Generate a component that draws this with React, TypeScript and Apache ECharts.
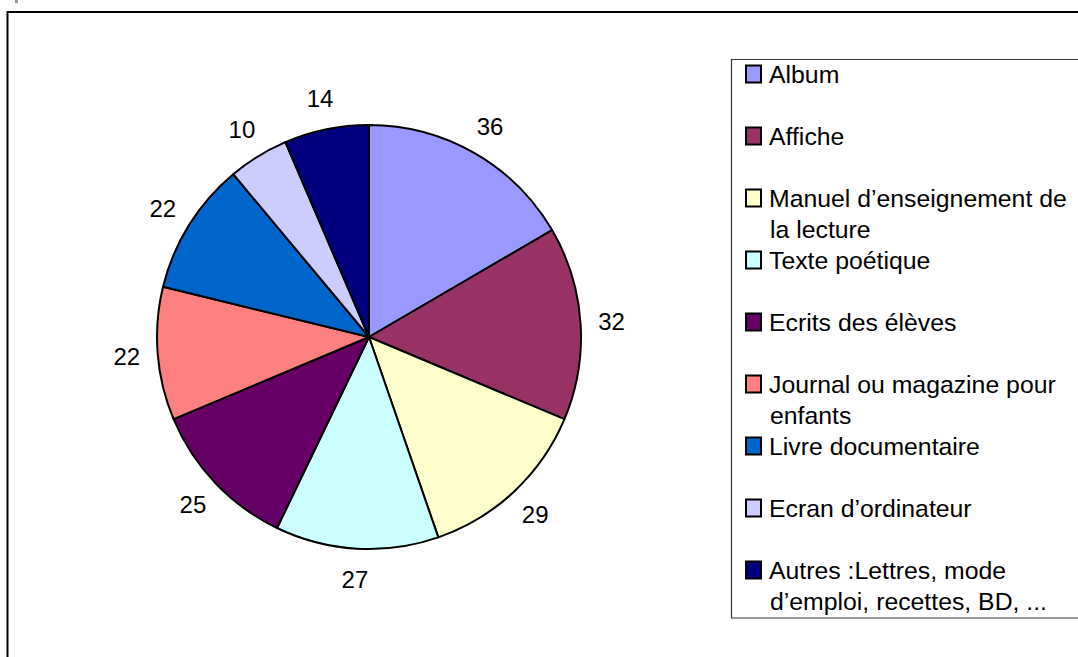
import React, { useEffect, useRef } from "react";
import * as echarts from "echarts";

const categories = [
  "Album",
  "Affiche",
  "Manuel d’enseignement de la lecture",
  "Texte poétique",
  "Ecrits des élèves",
  "Journal ou magazine pour enfants",
  "Livre documentaire",
  "Ecran d’ordinateur",
  "Autres :Lettres, mode d’emploi, recettes, BD, ...",
];
const legendLines = [
  ["Album"],
  ["Affiche"],
  ["Manuel d’enseignement de", "la lecture"],
  ["Texte poétique"],
  ["Ecrits des élèves"],
  ["Journal ou magazine pour", "enfants"],
  ["Livre documentaire"],
  ["Ecran d’ordinateur"],
  ["Autres :Lettres, mode", "d’emploi, recettes, BD, ..."],
];
const values = [36, 32, 29, 27, 25, 22, 22, 10, 14];
const colors = ["#9999FF", "#993366", "#FFFFCC", "#CCFFFF", "#660066", "#FF8080", "#0066CC", "#CCCCFF", "#000080"];

const FONT = "'Liberation Sans', Arial, sans-serif";

export default function App() {
  const ref = useRef<HTMLDivElement>(null);
  useEffect(() => {
    if (!ref.current) return;
    const chart = echarts.init(ref.current, undefined, { renderer: "svg" });
    const rich: any = {
      t: { fontSize: 24.8, lineHeight: 31, color: "#000", fontFamily: FONT, padding: [0, 0, 0, 9] },
      s: { width: 14, height: 14, lineHeight: 31 },
    };
    colors.forEach((c, i) => {
      rich["m" + i] = {
        width: 13,
        height: 13,
        backgroundColor: c,
        borderColor: "#000",
        borderWidth: 2,
        lineHeight: 31,
        padding: [2, 0, 0, 0],
      };
    });
    const option: any = {
      animation: false,
      backgroundColor: "#fff",
      textStyle: { fontFamily: FONT },
      legend: {
        orient: "vertical",
        left: 742,
        top: 58.5,
        padding: 0,
        itemGap: 0,
        itemWidth: 0,
        itemHeight: 0,
        icon: "none",
        selectedMode: false,
        data: categories,
        formatter: (name: string) => {
          const i = categories.indexOf(name);
          const lines = legendLines[i];
          const first = `{m${i}|}{t|${lines[0]}}`;
          const second = lines[1] ? `{s|}{t|${lines[1]}}` : `{t| }`;
          return first + "\n" + second;
        },
        textStyle: { fontSize: 24.8, lineHeight: 31, fontFamily: FONT, color: "#000", rich },
      },
      graphic: [
        {
          type: "rect",
          shape: { x: 7.5, y: 12, width: 1300, height: 900 },
          style: { fill: "none", stroke: "#000", lineWidth: 2 },
          silent: true,
        },
        {
          type: "rect",
          shape: { x: 731.5, y: 59.5, width: 500, height: 558.5 },
          style: { fill: "none", stroke: "#333", lineWidth: 1.2 },
          silent: true,
        },
        {
          type: "rect",
          shape: { x: 15, y: 0, width: 3, height: 3 },
          style: { fill: "#999" },
          silent: true,
        },
      ],
      series: [
        {
          type: "pie",
          center: [369, 337],
          radius: 212,
          startAngle: 90,
          clockwise: true,
          label: { show: false },
          labelLine: { show: false },
          emphasis: { disabled: true },
          itemStyle: { borderColor: "#000", borderWidth: 2 },
          data: categories.map((n, i) => ({ name: n, value: values[i], itemStyle: { color: colors[i] } })),
        },
        {
          type: "pie",
          center: [369, 337],
          radius: [212, 268],
          startAngle: 90,
          clockwise: true,
          silent: true,
          emphasis: { disabled: true },
          itemStyle: { color: "transparent", borderWidth: 0 },
          label: {
            show: true,
            position: "inside",
            formatter: "{c}",
            fontSize: 24,
            color: "#000",
            fontFamily: FONT,
          },
          labelLine: { show: false },
          data: categories.map((n, i) => ({ name: n, value: values[i] })),
        },
      ],
    };
    chart.setOption(option);
    return () => chart.dispose();
  }, []);
  return (
    <div
      ref={ref}
      style={{ position: "absolute", left: 0, top: 0, width: 1078, height: 657, background: "#fff" }}
    />
  );
}
